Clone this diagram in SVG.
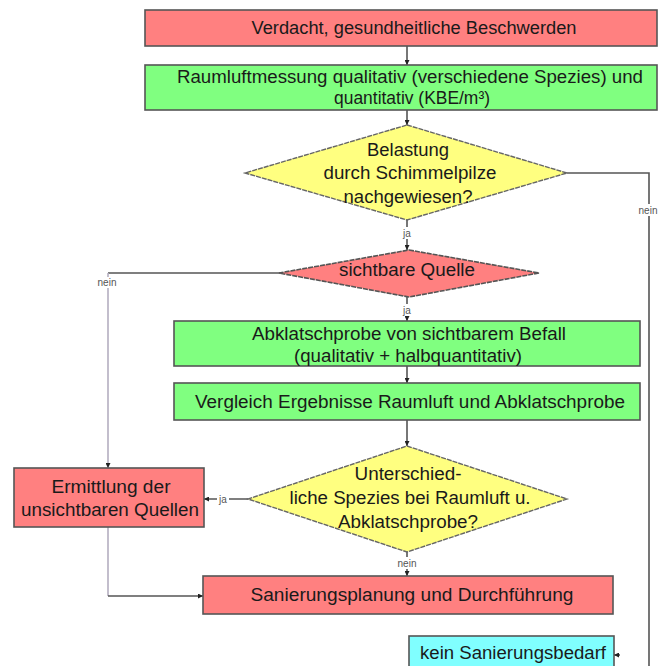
<svg xmlns="http://www.w3.org/2000/svg" width="658" height="666" viewBox="0 0 658 666">
<defs>
<marker id="ah" viewBox="0 0 6 6" refX="6" refY="3" markerWidth="5" markerHeight="5" orient="auto" markerUnits="userSpaceOnUse">
<path d="M0,0 L6,3 L0,6 z" fill="#222"/>
</marker>
</defs>
<style>
.red{fill:#FF8080;stroke:#555;stroke-width:1.6}
.green{fill:#80FF80;stroke:#555;stroke-width:1.6}
.yellow{fill:#FFFF80;stroke:#666;stroke-width:1.4;stroke-dasharray:5 1}
.cyan{fill:#80FFFF;stroke:#555;stroke-width:1.6}
.t{font-family:"Liberation Sans",Arial,sans-serif;font-size:17.5px;fill:#1a1a1a;text-anchor:middle;dominant-baseline:central}
.lbl{font-family:"Liberation Sans",Arial,sans-serif;font-size:10px;fill:#555;text-anchor:middle;dominant-baseline:central}
.c{fill:none;stroke:#555;stroke-width:1.6}
.cl{fill:none;stroke:#b4aec0;stroke-width:1.6}
</style>
<g id="connectors">
<path class="c" d="M407,46 V65" marker-end="url(#ah)"/>
<path class="c" d="M407,110 V125" marker-end="url(#ah)"/>
<path class="c" d="M407,220 V250" marker-end="url(#ah)"/>
<path class="c" d="M407,297 V321" marker-end="url(#ah)"/>
<path class="c" d="M407,366 V383" marker-end="url(#ah)"/>
<path class="c" d="M407,420 V446" marker-end="url(#ah)"/>
<path class="c" d="M407,552 V576" marker-end="url(#ah)"/>
<path class="c" d="M280,273 H108"/>
<path class="cl" d="M108,273 V468" marker-end="url(#ah)"/>
<path class="c" d="M248,499 H204" marker-end="url(#ah)"/>
<path class="cl" d="M108,527 V596"/>
<path class="c" d="M108,596 H203" marker-end="url(#ah)"/>
<path class="c" d="M567,173 H649 V666"/>
<path class="c" d="M620,655 H614" marker-end="url(#ah)"/>
<rect x="96" y="277" width="24" height="11" fill="#fff"/>
<text class="lbl" x="107" y="282">nein</text>
<rect x="400" y="227" width="14" height="12" fill="#fff"/>
<text class="lbl" x="407" y="233">ja</text>
<rect x="401" y="304" width="12" height="12" fill="#fff"/>
<text class="lbl" x="407" y="310">ja</text>
<rect x="217" y="493" width="12" height="12" fill="#fff"/>
<text class="lbl" x="223" y="499">ja</text>
<rect x="395" y="557" width="24" height="12" fill="#fff"/>
<text class="lbl" x="407" y="563">nein</text>
<rect x="636" y="204" width="22" height="12" fill="#fff"/>
<text class="lbl" x="648" y="210">nein</text>
</g>
<g id="n1">
<rect class="red" x="145" y="10" width="512" height="36"/>
<text class="t" x="414" y="28" textLength="325" lengthAdjust="spacingAndGlyphs">Verdacht, gesundheitliche Beschwerden</text>
</g>
<g id="n2">
<rect class="green" x="145" y="65" width="512" height="45"/>
<text class="t" x="410" y="77" textLength="466" lengthAdjust="spacingAndGlyphs">Raumluftmessung qualitativ (verschiedene Spezies) und</text>
<text class="t" x="412" y="98" textLength="156" lengthAdjust="spacingAndGlyphs">quantitativ (KBE/m³)</text>
</g>
<g id="n3">
<polygon class="yellow" points="407,125 567,173 407,220 245,173"/>
<text class="t" x="408" y="150" textLength="82" lengthAdjust="spacingAndGlyphs">Belastung</text>
<text class="t" x="410" y="173" textLength="173" lengthAdjust="spacingAndGlyphs">durch Schimmelpilze</text>
<text class="t" x="408" y="197" textLength="129" lengthAdjust="spacingAndGlyphs">nachgewiesen?</text>
</g>
<g id="n4">
<polygon class="red" points="409,250 539,273 409,297 279,273" style="stroke-dasharray:5 1"/>
<text class="t" x="407" y="270" textLength="136" lengthAdjust="spacingAndGlyphs">sichtbare Quelle</text>
</g>
<g id="n5">
<rect class="green" x="174" y="321" width="466" height="45"/>
<text class="t" x="409" y="334" textLength="314" lengthAdjust="spacingAndGlyphs">Abklatschprobe von sichtbarem Befall</text>
<text class="t" x="408" y="356" textLength="228" lengthAdjust="spacingAndGlyphs">(qualitativ + halbquantitativ)</text>
</g>
<g id="n6">
<rect class="green" x="174" y="383" width="466" height="37"/>
<text class="t" x="410" y="402" textLength="430" lengthAdjust="spacingAndGlyphs">Vergleich Ergebnisse Raumluft und Abklatschprobe</text>
</g>
<g id="n7">
<polygon class="yellow" points="407,446 567,499 407,552 248,499"/>
<text class="t" x="408" y="474" textLength="107" lengthAdjust="spacingAndGlyphs">Unterschied-</text>
<text class="t" x="410" y="498" textLength="241" lengthAdjust="spacingAndGlyphs">liche Spezies bei Raumluft u.</text>
<text class="t" x="408" y="522" textLength="140" lengthAdjust="spacingAndGlyphs">Abklatschprobe?</text>
</g>
<g id="n8">
<rect class="red" x="14" y="468" width="190" height="59"/>
<text class="t" x="111" y="487" textLength="119" lengthAdjust="spacingAndGlyphs">Ermittlung der</text>
<text class="t" x="110" y="510" textLength="178" lengthAdjust="spacingAndGlyphs">unsichtbaren Quellen</text>
</g>
<g id="n9">
<rect class="red" x="203" y="576" width="410" height="38"/>
<text class="t" x="412" y="595" textLength="323" lengthAdjust="spacingAndGlyphs">Sanierungsplanung und Durchführung</text>
</g>
<g id="n10">
<rect class="cyan" x="409" y="636" width="205" height="40"/>
<text class="t" x="513" y="653" textLength="186" lengthAdjust="spacingAndGlyphs">kein Sanierungsbedarf</text>
</g>
</svg>
